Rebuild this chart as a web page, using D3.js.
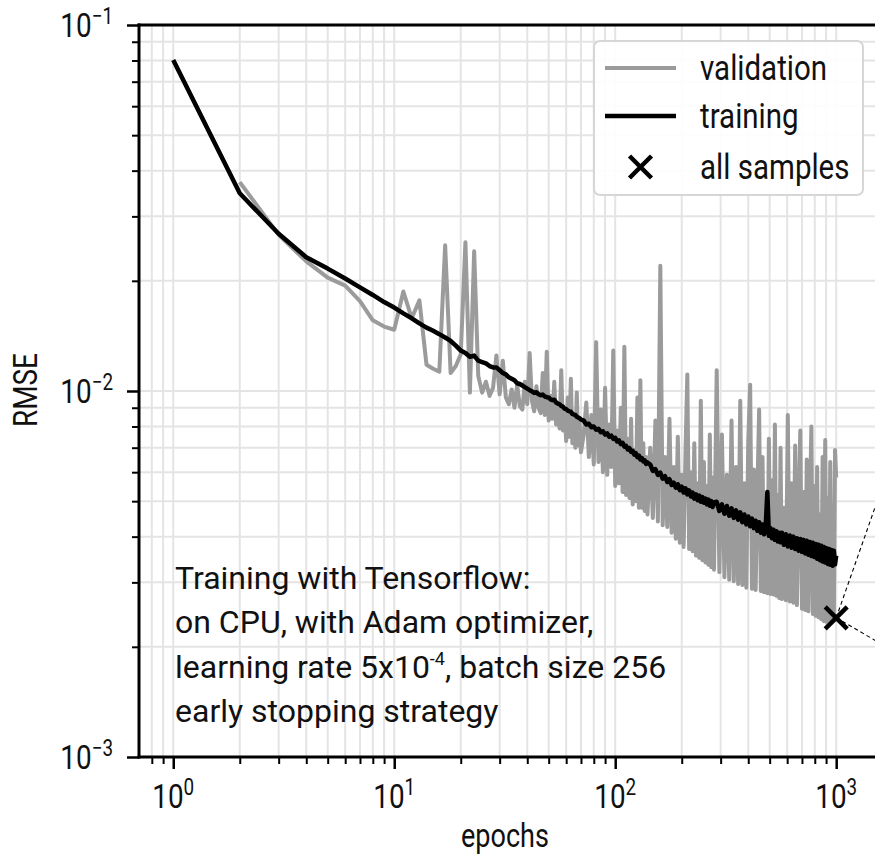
<!DOCTYPE html>
<html>
<head>
<meta charset="utf-8">
<script src="https://cdn.jsdelivr.net/npm/d3@7"></script>
<style>
  body { margin: 0; background: #fff; }
  svg { display: block; }
</style>
</head>
<body>
<svg id="chart" width="875" height="858"></svg>
<script>
// Training log: epoch index and RMSE (values in units of 1e-3)
const epochs = [
  1,2,3,4,5,6,7,8,9,10,11,12,13,14,15,16,17,18,19,20,
  21,22,23,24,25,26,27,28,29,30,31,32,33,34,35,36,37,38,39,40,
  41,42,43,44,45,46,47,48,49,50,51,52,53,54,55,56,57,58,59,60,
  61,62,63,64,65,66,67,68,69,70,
  72,74,76,78,80,82,84,86,88,90,92,94,96,98,100,102,104,106,108,110,
  112,114,116,118,120,122,124,126,128,130,132,134,136,138,140,
  144,148,152,156,160,164,168,172,176,180,184,188,192,196,200,204,208,212,216,220,
  224,228,232,236,240,244,248,252,256,260,264,268,272,276,280,
  288,296,304,312,320,328,336,344,352,360,368,376,384,392,400,408,416,424,432,440,
  448,456,464,472,480,488,496,504,512,520,528,536,544,552,560,
  568,580,592,604,616,628,640,652,664,676,688,700,712,724,736,748,760,772,784,796,
  808,820,832,844,856,868,880,892,904,916,928,940,952,964,976,988,1000
];

const valRmse = [
  null,37.2,26.7,22.6,20.4,19.4,17.6,15.6,15.0,14.7,18.7,15.8,17.7,11.8,11.5,11.3,25.0,11.2,11.7,12.6,
  25.5,9.9,24.1,11.0,9.9,10.6,9.7,10.2,12.5,9.8,12.1,9.6,9.2,10.1,9.0,10.4,9.1,8.9,10.6,9.2,
  12.7,9.4,8.8,10.3,9.0,8.7,11.2,8.6,12.8,8.3,9.7,8.4,10.6,8.1,9.2,7.9,11.4,7.8,8.9,7.3,
  9.6,7.5,10.8,7.2,8.4,7.0,9.9,7.1,8.2,6.8,
  7.6,9.3,6.6,8.6,6.3,13.6,6.4,8.9,6.0,10.2,5.9,8.1,6.2,12.9,5.5,7.8,5.6,9.0,5.3,13.2,
  5.2,7.4,5.1,8.4,4.9,6.9,5.0,9.6,4.8,10.7,4.8,7.2,4.7,6.6,4.6,
  7.0,4.5,8.3,4.4,22.0,4.3,6.6,4.25,8.4,4.1,6.2,3.95,7.5,3.85,5.9,3.75,6.8,11.1,3.7,6.0,
  3.65,7.2,3.55,5.6,3.5,9.4,3.45,6.4,3.4,5.5,3.35,7.6,3.3,5.8,3.25,
  11.4,3.2,7.6,3.1,5.9,3.05,8.3,3.02,6.2,2.97,9.4,2.95,5.6,2.9,7.3,10.4,2.88,6.1,2.86,5.3,
  8.9,2.84,6.6,2.82,5.1,2.8,7.4,2.79,5.7,2.78,8.1,2.76,5.2,2.72,7.0,
  2.7,4.8,2.68,8.6,2.66,5.6,2.64,7.1,2.6,4.9,7.8,2.54,5.3,2.52,6.5,2.5,4.7,8.0,2.46,5.5,
  2.43,6.2,2.41,4.6,2.38,6.6,2.35,7.35,2.34,5.1,2.36,6.4,2.4,4.8,2.45,6.9,5.8
];

const trainRmse = [
  80.2,34.7,26.9,23.2,21.6,20.3,19.2,18.3,17.5,16.9,16.3,15.8,15.3,14.9,14.6,14.3,14.0,13.7,13.3,12.9,
  12.7,12.4,12.5,12.1,12.0,11.9,11.7,11.6,11.6,11.4,11.2,11.1,10.9,10.8,10.7,10.5,10.45,10.35,10.25,10.15,
  10.05,9.98,9.88,9.92,9.8,9.74,9.78,9.66,9.62,9.6,9.48,9.44,9.46,9.3,9.24,9.2,9.1,9.06,8.95,8.92,
  8.84,8.8,8.78,8.66,8.62,8.6,8.5,8.46,8.42,8.36,
  8.3,8.1,8.14,7.96,8.0,7.84,7.88,7.72,7.76,7.6,7.66,7.5,7.55,7.4,7.45,7.28,7.33,7.16,7.22,7.05,
  7.08,6.92,6.98,6.82,6.86,6.7,6.76,6.6,6.66,6.5,6.56,6.42,6.46,6.32,6.38,
  6.3,6.05,6.12,5.9,5.98,5.76,5.85,5.64,5.74,5.54,5.62,5.44,5.56,5.36,5.48,5.28,5.42,5.22,5.35,5.15,
  5.28,5.08,5.22,5.03,5.18,4.98,5.13,4.95,5.08,4.9,5.05,4.86,5.0,4.82,4.97,
  4.98,4.7,4.9,4.62,4.85,4.56,4.78,4.5,4.72,4.45,4.66,4.38,4.6,4.32,4.54,4.27,4.48,4.22,4.42,4.15,
  4.38,4.1,4.32,4.06,4.28,5.3,4.02,4.22,3.96,4.18,3.92,4.14,3.88,4.1,3.86,
  4.1,3.8,4.06,3.76,4.03,3.73,4.0,3.7,3.96,3.66,3.94,3.63,3.92,3.6,3.9,3.57,3.87,3.54,3.85,3.52,
  3.82,3.48,3.8,3.45,3.78,3.42,3.75,3.4,3.72,3.37,3.7,3.35,3.68,3.33,3.66,3.36,3.55
];

// Final model retrained on all samples
const allSamplesEpoch = [1000];
const allSamplesRmse = [2.4];

const xTickExponents = [0, 1, 2, 3];
const yTickExponents = [-3, -2, -1];
const legendLabels = ["validation", "training", "all samples"];
const noteLines = [
  "Training with Tensorflow:",
  "on CPU, with Adam optimizer,",
  "learning rate 5x10|-4|, batch size 256",
  "early stopping strategy"
];

const UNIT = 1e-3;
const svg = d3.select("#chart");
const W = 875, H = 858;

const plotL = 139, plotR = 881.3, plotT = 25, plotB = 757;
const x = d3.scaleLog().domain([0.7, 1600]).range([plotL, plotR]);
const y = d3.scaleLog().domain([1e-3, 1e-1]).range([plotB, plotT]);

svg.append("rect").attr("width", W).attr("height", H).attr("fill", "#fff");

svg.append("defs").append("clipPath").attr("id", "plotclip")
  .append("rect").attr("x", plotL).attr("y", plotT)
  .attr("width", plotR - plotL).attr("height", plotB - plotT);

// grid at every major and minor tick
const xTicksAll = x.ticks().filter(t => t > 0.7 * 1.001 && t < 1600);
const yTicksAll = y.ticks();
const grid = svg.append("g").attr("clip-path", "url(#plotclip)");
grid.selectAll("line.gx").data(xTicksAll).join("line")
  .attr("x1", d => x(d)).attr("x2", d => x(d))
  .attr("y1", plotT).attr("y2", plotB)
  .attr("stroke", "#e4e4e4").attr("stroke-width", 2);
grid.selectAll("line.gy").data(yTicksAll).join("line")
  .attr("y1", d => y(d)).attr("y2", d => y(d))
  .attr("x1", plotL).attr("x2", plotR)
  .attr("stroke", "#e4e4e4").attr("stroke-width", 2);

// series
const rows = epochs.map((e, i) => ({ e, v: valRmse[i], t: trainRmse[i] }));
const plot = svg.append("g").attr("clip-path", "url(#plotclip)");

const valLine = d3.line()
  .defined(d => d.v != null)
  .x(d => x(d.e)).y(d => y(d.v * UNIT));
const trainLine = d3.line()
  .x(d => x(d.e)).y(d => y(d.t * UNIT));

plot.append("path").datum(rows).attr("d", valLine)
  .attr("fill", "none").attr("stroke", "#9b9b9b")
  .attr("stroke-width", 4).attr("stroke-linejoin", "round");
plot.append("path").datum(rows).attr("d", trainLine)
  .attr("fill", "none").attr("stroke", "#000")
  .attr("stroke-width", 4.5).attr("stroke-linejoin", "round");

// connector lines from the final marker towards the zoomed view
const mx = x(allSamplesEpoch[0]), my = y(allSamplesRmse[0] * UNIT);
const conn = svg.append("g");
[[45, -128], [45, 26]].forEach(([dx, dy]) => {
  conn.append("line")
    .attr("x1", mx).attr("y1", my).attr("x2", mx + dx).attr("y2", my + dy)
    .attr("stroke", "#000").attr("stroke-width", 1.1).attr("stroke-dasharray", "4,3");
});

// marker: all samples
const xMark = s => `M${-s},${-s}L${s},${s}M${-s},${s}L${s},${-s}`;
plot.selectAll("path.mk").data(allSamplesEpoch).join("path")
  .attr("transform", (d, i) => `translate(${x(d)},${y(allSamplesRmse[i] * UNIT)})`)
  .attr("d", xMark(11)).attr("stroke", "#000").attr("stroke-width", 4.5).attr("fill", "none");

// annotation
const note = svg.append("g").attr("font-family", "Roboto, 'Noto Sans', sans-serif")
  .attr("font-size", 32).attr("fill", "#111");
noteLines.forEach((line, i) => {
  const t = note.append("text").attr("x", 175).attr("y", 589 + i * 44.4);
  const parts = line.split("|");
  if (parts.length === 1) { t.text(line); return; }
  t.append("tspan").text(parts[0]);
  t.append("tspan").attr("font-size", 18).attr("dy", -13).text(parts[1]);
  t.append("tspan").attr("dy", 13).text(parts[2]);
});

// axes: ticks
const axes = svg.append("g");
const majorX = xTickExponents.map(p => Math.pow(10, p));
const minorX = xTicksAll.filter(t => !majorX.some(m => Math.abs(m - t) < 1e-9));
const majorY = yTickExponents.map(p => Math.pow(10, p));
const minorY = yTicksAll.filter(t => !majorY.some(m => Math.abs(m - t) / m < 1e-9));

const styleAxis = g => {
  g.select(".domain").remove();
  g.selectAll(".tick line").attr("stroke", "#000");
  g.selectAll(".tick text").remove();
};
axes.append("g").attr("transform", `translate(0,${plotB})`)
  .call(d3.axisBottom(x).tickValues(majorX).tickSize(12).tickFormat(""))
  .call(styleAxis).selectAll(".tick line").attr("stroke-width", 2.5);
axes.append("g").attr("transform", `translate(0,${plotB})`)
  .call(d3.axisBottom(x).tickValues(minorX).tickSize(7).tickFormat(""))
  .call(styleAxis).selectAll(".tick line").attr("stroke-width", 2);
axes.append("g").attr("transform", `translate(${plotL},0)`)
  .call(d3.axisLeft(y).tickValues(majorY).tickSize(12).tickFormat(""))
  .call(styleAxis).selectAll(".tick line").attr("stroke-width", 2.5);
axes.append("g").attr("transform", `translate(${plotL},0)`)
  .call(d3.axisLeft(y).tickValues(minorY).tickSize(7).tickFormat(""))
  .call(styleAxis).selectAll(".tick line").attr("stroke-width", 2);

// spines
axes.append("line").attr("x1", plotL).attr("x2", plotL).attr("y1", plotT - 1.5).attr("y2", plotB + 1.5)
  .attr("stroke", "#000").attr("stroke-width", 3);
axes.append("line").attr("x1", plotL - 1.5).attr("x2", W + 5).attr("y1", plotB).attr("y2", plotB)
  .attr("stroke", "#000").attr("stroke-width", 3);
axes.append("line").attr("x1", plotL - 1.5).attr("x2", W + 5).attr("y1", plotT).attr("y2", plotT)
  .attr("stroke", "#000").attr("stroke-width", 3);

// condensed text helper
function condText(parent, px, py, anchor, size, cond, rotate) {
  return parent.append("text")
    .attr("transform", `translate(${px},${py})${rotate ? ` rotate(${rotate})` : ""} scale(${cond},1)`)
    .attr("text-anchor", anchor)
    .attr("font-family", "Roboto, 'Noto Sans', sans-serif")
    .attr("font-size", size).attr("fill", "#111");
}

// tick labels
xTickExponents.forEach(p => {
  const t = condText(axes, x(Math.pow(10, p)), 808, "middle", 34, 0.82);
  t.append("tspan").text("10");
  t.append("tspan").attr("font-size", 23).attr("dy", -13).text(String(p));
});
yTickExponents.forEach(p => {
  const t = condText(axes, 113, y(Math.pow(10, p)) + 12, "end", 34, 0.82);
  t.append("tspan").text("10");
  t.append("tspan").attr("font-size", 23).attr("dy", -13).text("\u2212" + Math.abs(p));
});

// axis titles
condText(axes, 505, 847, "middle", 33, 0.82).text("epochs");
condText(axes, 37, 390, "middle", 34, 0.82, -90).text("RMSE");

// legend
const leg = svg.append("g");
leg.append("rect").attr("x", 594).attr("y", 41).attr("width", 269).attr("height", 154)
  .attr("rx", 6).attr("fill", "#fff").attr("fill-opacity", 0.9)
  .attr("stroke", "#d6d6d6").attr("stroke-width", 2);
const legRows = [
  { label: legendLabels[0], y: 68, kind: "line", color: "#9b9b9b", w: 4 },
  { label: legendLabels[1], y: 116, kind: "line", color: "#000", w: 4.5 },
  { label: legendLabels[2], y: 167, kind: "mark" }
];
legRows.forEach(r => {
  if (r.kind === "line") {
    leg.append("line").attr("x1", 605).attr("x2", 676).attr("y1", r.y).attr("y2", r.y)
      .attr("stroke", r.color).attr("stroke-width", r.w);
  } else {
    leg.append("path").attr("transform", `translate(640.5,${r.y})`).attr("d", xMark(11))
      .attr("stroke", "#000").attr("stroke-width", 4.5).attr("fill", "none");
  }
  condText(leg, 700, r.y + 12, "start", 36, 0.82).text(r.label);
});
</script>
</body>
</html>
